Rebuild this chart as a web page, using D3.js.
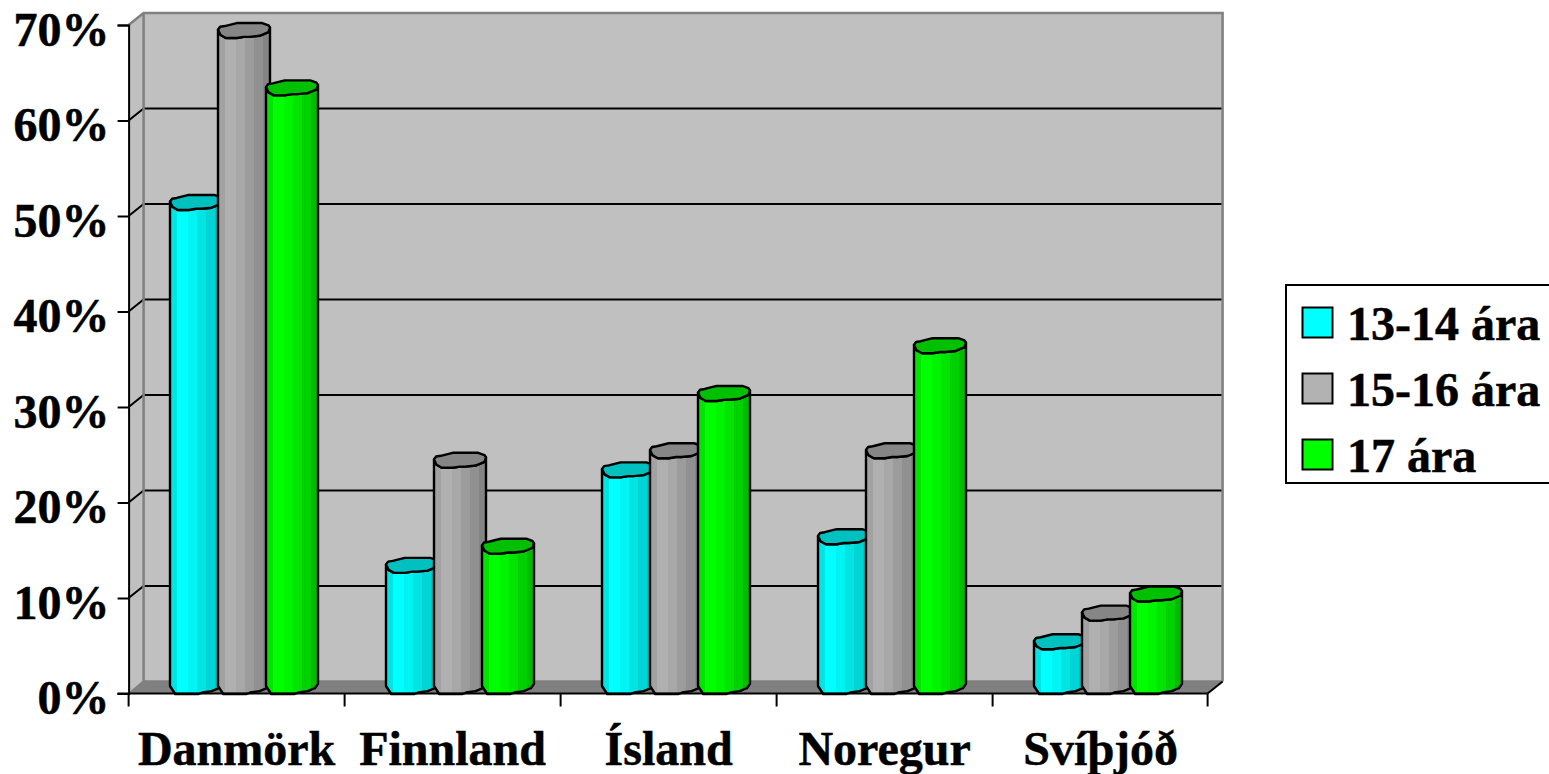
<!DOCTYPE html>
<html><head><meta charset="utf-8">
<script src="https://cdn.jsdelivr.net/npm/d3@7/dist/d3.min.js"></script>
<style>html,body{margin:0;padding:0;background:#fff;overflow:hidden}svg{display:block}
text{font-family:"Liberation Serif",serif;font-weight:700;fill:#000;stroke:#000;stroke-width:.5px}</style></head><body>
<script>
const categories=["Danmörk","Finnland","Ísland","Noregur","Svíþjóð"];
const seriesNames=["13-14 ára","15-16 ára","17 ára"];
const v1314=[51,13,23,16,5];
const v1516=[69,24,25,25,8];
const v17=[63,15,31,36,10];
const seriesValues=[v1314,v1516,v17];
const yTicks=[0,10,20,30,40,50,60,70];
const faceStops=[
 ["#00e4e4","#00ffff","#00f4f4","#00e4e4","#00d4d4","#00c4c4"],
 ["#a2a2a2","#b0b0b0","#a8a8a8","#9c9c9c","#909090","#848484"],
 ["#00e400","#00ff00","#00f400","#00e400","#00d000","#00bc00"]];
const legendFill=["#00ffff","#b2b2b2","#00ff00"];
const topFill=["#00c0c0","#868686","#00c000"];

const W=1549,H=774,depthX=15,depthY=12;
const svg=d3.select("body").append("svg").attr("width",W).attr("height",H);
const defs=svg.append("defs");
const x=d3.scaleBand().domain(categories).range([128.6,1208.6]);
const y=d3.scaleLinear().domain([0,70]).range([693.5,25]);
const inner=d3.scaleBand().domain(seriesNames).range([41.4,185.4]);
const bw=inner.bandwidth()+4, topH=15;

const x0=x.range()[0],x1=x.range()[1],y0=y(0),yT=y(70);
const poly=(pts,f,s,sw)=>svg.append("polygon").attr("points",pts.map(p=>p.join(",")).join(" ")).attr("fill",f).attr("stroke",s||"none").attr("stroke-width",sw||0);

// walls and floor
poly([[x0+depthX,yT-depthY],[x1+depthX-1,yT-depthY],[x1+depthX-1,y0-depthY],[x0+depthX,y0-depthY]],"#c0c0c0");
poly([[x0,yT],[x0+depthX,yT-depthY],[x0+depthX,y0-depthY],[x0,y0]],"#c0c0c0");
poly([[x0,y0],[x0+depthX,y0-depthY],[x1+depthX-1,y0-depthY],[x1-1,y0]],"#808080");
// gridlines
yTicks.slice(1,-1).forEach(t=>{
 svg.append("path").attr("d",`M${x0},${y(t)}L${x0+depthX},${y(t)-depthY}H${x1+depthX-1}`).attr("fill","none").attr("stroke","#000").attr("stroke-width",2);
});
// wall frame
svg.append("path").attr("d",`M${x0},${yT}L${x0+depthX},${yT-depthY}H${x1+depthX-1}V${y0-depthY}M${x0+depthX},${yT-depthY}V${y0-depthY}L${x0+1},${y0}M${x0+depthX},${y0-depthY}H${x1+depthX-1}`)
 .attr("fill","none").attr("stroke","#808080").attr("stroke-width",2.5);
svg.append("path").attr("d",`M${x1-1},${y0}L${x1+depthX-1},${y0-depthY}`).attr("stroke","#000").attr("stroke-width",2);

// gradients
faceStops.forEach((st,i)=>{
 const g=defs.append("linearGradient").attr("id","face"+i);
 const edges=[0,.14,.34,.52,.7,.86,1];
 st.forEach((c,k)=>{
  g.append("stop").attr("offset",edges[k]).attr("stop-color",c);
  g.append("stop").attr("offset",edges[k+1]).attr("stop-color",c);
 });
});

// top and bottom outline of a cylinder, as fractions of its width and cap height
const capFront=[[1,.3],[.97,.6],[.8,.85],[.6,.92],[.5,.92],[.36,1],[.15,1],[.05,.8],[0,.45]];
const capShape=[[0,.45],[.04,.25],[.13,.2],[.36,0],[.85,0],[.97,.15],[1,.3],[.97,.6],[.8,.85],[.6,.92],[.5,.92],[.36,1],[.15,1],[.05,.8]];
const baseFront=[[0,.45],[.1,1],[.55,1],[.62,.9],[.8,.8],[.94,.6],[1,.3]];

const line=d3.line();
seriesNames.forEach((s,si)=>{
 const g=svg.append("g");
 categories.forEach((c,ci)=>{
  const left=x(c)+inner(s);
  const capY=y(seriesValues[si][ci])-11.5;   // top of the cap
  const baseY=y(0)-14;
  const cap=capShape.map(p=>[left+p[0]*bw,capY+p[1]*topH]);
  const body=capFront.map(p=>[left+p[0]*bw,capY+p[1]*topH]).concat(baseFront.map(p=>[left+p[0]*bw,baseY+p[1]*14.5]));
  g.append("path").attr("d",line(body)+"Z").attr("fill",`url(#face${si})`).attr("stroke","#000").attr("stroke-width",2.4).attr("stroke-linejoin","round");
  g.append("path").attr("d",line(cap)+"Z").attr("fill",topFill[si]).attr("stroke","#000").attr("stroke-width",2.4).attr("stroke-linejoin","round");
 });
});

// axes
const fs=48;
const ay=svg.append("g").attr("transform",`translate(${x0},0)`)
 .call(d3.axisLeft(y).tickValues(yTicks).tickFormat(d=>d+"%").tickSize(11).tickPadding(8));
ay.selectAll("text").attr("font-size",fs).attr("dy","20").attr("font-family",null);
const ax=svg.append("g").attr("transform",`translate(0,${y0})`)
 .call(d3.axisBottom(x).tickSize(0).tickPadding(0));
ax.selectAll("text").attr("font-size",fs).attr("y",71).attr("dy",null);
ax.selectAll(".tick line").remove();
ax.selectAll("line.t").data(categories.map(c=>x(c)).concat([x1-1])).join("line").attr("class","t")
 .attr("x1",d=>d).attr("x2",d=>d).attr("y1",0).attr("y2",13);
ax.selectAll("line.t").attr("stroke","#000").attr("stroke-width",2);
[ay,ax].forEach(a=>{a.selectAll(".domain").attr("stroke","#000").attr("stroke-width",2).attr("fill","none");
 a.selectAll(".tick line").attr("stroke","#000").attr("stroke-width",2);a.attr("font-family",null);});
ax.select(".domain").attr("d",`M${x0-11},0H${x1-1}`);

// legend
const lg=svg.append("g");
lg.append("rect").attr("x",1286).attr("y",285).attr("width",280).attr("height",198).attr("fill","#fff").attr("stroke","#000").attr("stroke-width",2);
const ly=d3.scalePoint().domain(seriesNames).range([307,439]);
seriesNames.forEach((s,i)=>{
 lg.append("rect").attr("x",1302.5).attr("y",ly(s)+.5).attr("width",30).attr("height",30).attr("fill",legendFill[i]).attr("stroke","#000").attr("stroke-width",2);
 lg.append("text").attr("x",1347).attr("y",ly(s)+33).attr("font-size",fs).text(s);
});
</script></body></html>
